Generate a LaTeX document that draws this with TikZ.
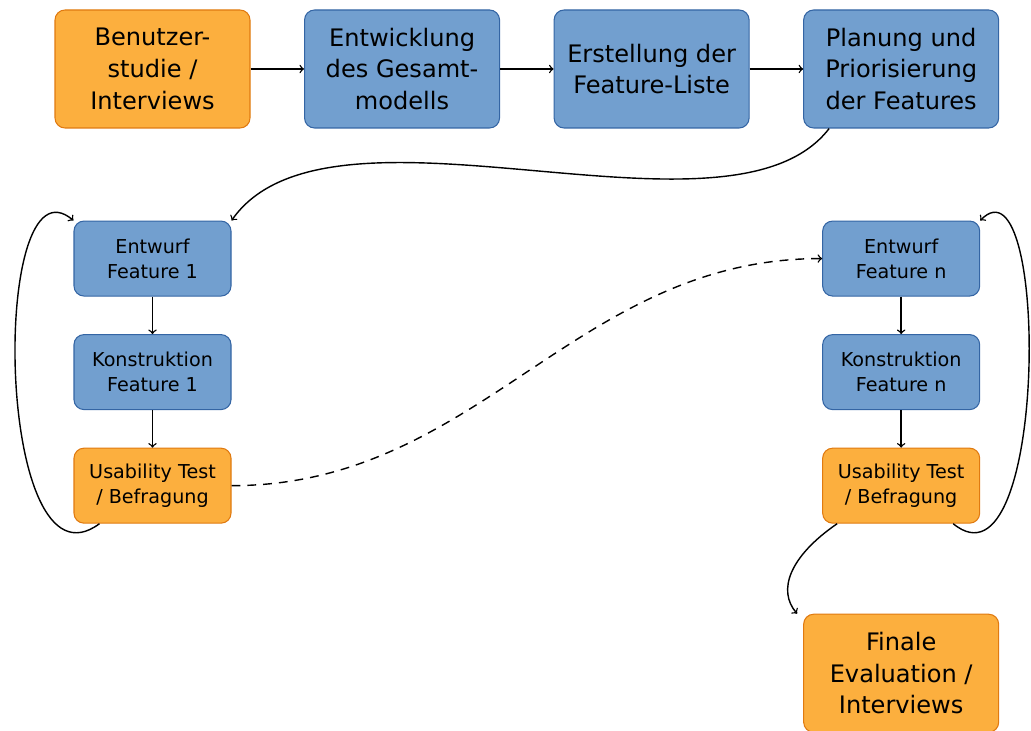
\documentclass[tikz,border=0pt]{standalone}
\usepackage{fontspec}
\setmainfont{DejaVu Sans}
\usetikzlibrary{positioning,calc}
\definecolor{fdblue}{HTML}{729FCF}
\definecolor{fdbluedark}{HTML}{3465A4}
\definecolor{fdorange}{HTML}{FCAF3E}
\definecolor{fdorangedark}{HTML}{E07A10}

\begin{document}
\begin{tikzpicture}[box/.style={draw,rectangle,rounded corners=0.2cm,semithick,align=center},
  phase/.style={box,minimum width=3.9cm,minimum height=2.36cm,font=\fontsize{13.7}{18}\selectfont},
  task/.style={box,minimum width=3.14cm,minimum height=1.5cm,font=\fontsize{10.9}{14.2}\selectfont},
  bluebox/.style={fill=fdblue,draw=fdbluedark},
  orangebox/.style={fill=fdorange,draw=fdorangedark},
  flow/.style={->,thick}]

        \useasboundingbox (0,0) rectangle (20.62,-14.62);

        \node (user) [phase,orangebox] at (3.05,-1.38) {Benutzer-\\studie /\\Interviews};
        \node (model) [phase,bluebox,right = 1.07cm of user] {Entwicklung\\des Gesamt-\\modells};
        \node (list) [phase,bluebox,right = 1.07cm of model] {Erstellung der\\Feature-Liste};
        \node (plan) [phase,bluebox,right = 1.07cm of list] {Planung und\\Priorisierung\\der Features};

        \node (e1) [task,bluebox,below = 1.84cm of user] {Entwurf\\Feature 1};
        \node (k1) [task,bluebox,below = 0.75cm of e1] {Konstruktion\\Feature 1};
        \node (u1) [task,orangebox,below = 0.75cm of k1] {Usability Test\\/ Befragung};

        \node (en) [task,bluebox,below = 1.84cm of plan] {Entwurf\\Feature n};
        \node (kn) [task,bluebox,below = 0.75cm of en] {Konstruktion\\Feature n};
        \node (un) [task,orangebox,below = 0.75cm of kn] {Usability Test\\/ Befragung};

        \node (final) [phase,orangebox,below = 1.8cm of un] {Finale\\Evaluation /\\Interviews};

        \draw[flow] (user) -- (model);
        \draw[flow] (model) -- (list);
        \draw[flow] (list) -- (plan);

        \draw[flow] ([xshift=0.52cm]plan.south west) .. controls +(-2.0,-2.6) and +(1.98,2.82) .. (e1.north east);

        \draw[flow] (e1) -- (k1);
        \draw[flow] (k1) -- (u1);
        \draw[flow] (en) -- (kn);
        \draw[flow] (kn) -- (un);

        % loops back to the design step
        \draw[flow] ([xshift=0.52cm]u1.south west) .. controls +(-2.1,-1.56) and +(-1.68,1.42) .. (e1.north west);
        \draw[flow] ([xshift=-0.54cm]un.south east) .. controls +(1.9,-1.56) and +(1.4,1.42) .. (en.north east);

        \draw[flow,dash pattern=on 5pt off 4pt] (u1.east) to[out=0,in=180] (en.west);

        \draw[flow] ([xshift=0.3cm]un.south west) .. controls +(-0.96,-0.66) and +(-0.4,0.46) .. ([xshift=-0.12cm]final.north west);
      \end{tikzpicture}
\end{document}
